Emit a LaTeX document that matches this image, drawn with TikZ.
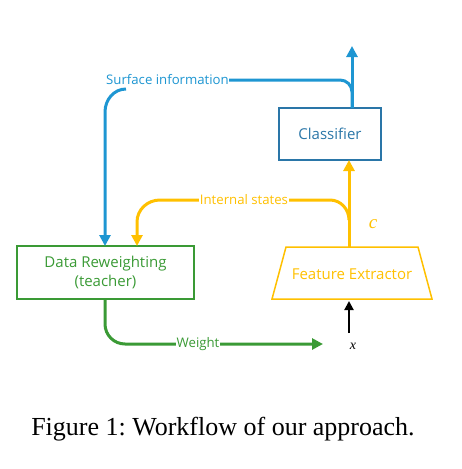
\documentclass[tikz,border=0pt]{standalone}
\usepackage{fontspec}
\setmainfont{Liberation Serif}
\newfontfamily\diag{Open Sans}
\usetikzlibrary{arrows.meta,shapes.geometric}
\definecolor{cblue}{HTML}{1E96D2}
\definecolor{cboxblue}{HTML}{2A76A8}
\definecolor{cgreen}{HTML}{3A9A35}
\definecolor{cyel}{HTML}{FFC000}
\frenchspacing
\begin{document}
\begin{tikzpicture}[x=1pt,y=-1pt,
  flow/.style={line width=3pt,-{Triangle[length=11pt,width=11pt]}},
  lbl/.style={fill=white,inner sep=0.5pt,font=\diag\fontsize{13.2}{15}\selectfont},
  boxtxt/.style={font=\diag\fontsize{15}{19}\selectfont,align=center}]
\useasboundingbox (0,0) rectangle (461,469);
% boxes
\node[draw=cboxblue,line width=1.5pt,minimum width=102pt,minimum height=52pt,inner sep=0pt,text=cboxblue,boxtxt] (cls) at (330,134) {Classifier};
\node[draw=cgreen,line width=1.5pt,minimum width=177pt,minimum height=53pt,inner sep=0pt,text=cgreen,boxtxt] (drw) at (105.5,272.5) {Data Reweighting\\(teacher)};
\coordinate (fe1) at (272,299);
\coordinate (fe2) at (432,299);
\coordinate (fe3) at (418,247);
\coordinate (fe4) at (286,247);
\draw[cyel,line width=1.5pt] (fe1) -- (fe2) -- (fe3) -- (fe4) -- cycle;
\node[text=cyel,boxtxt] (fe) at (352,274) {Feature Extractor};
% points
\coordinate (clsTop) at (352,108);
\coordinate (clsBot) at (349,160);
\coordinate (outTip) at (352,46);
\coordinate (feTop) at (349,248);
\coordinate (drwIn1) at (105,246);
\coordinate (drwIn2) at (137,246);
\coordinate (drwBot) at (105,299);
\coordinate (wTip) at (323,344);
\coordinate (xTail) at (349,333);
\coordinate (xTip) at (349,301);
% blue
\draw[cblue,flow] (clsTop) -- (outTip);
\draw[cblue,line width=3pt] (clsTop) -- (352,92) to[out=90,in=0] (340,80) -- (228,80);
\draw[cblue,flow] (126,89) to[out=180,in=90] (105,112) -- (drwIn1);
\node[lbl,text=cblue] (si) at (167.5,80) {Surface information};
% yellow
\draw[cyel,flow] (feTop) -- (clsBot);
\draw[cyel,flow] (349,220) to[out=90,in=0] (330,200) -- (160,200) to[out=180,in=90] (137,222) -- (drwIn2);
\node[lbl,text=cyel] (is) at (244,200) {Internal states};
\node[text=cyel,font=\itshape\fontsize{19}{20}\selectfont] (c) at (373,224) {c};
% green
\draw[cgreen,flow] (drwBot) -- (105,324) to[out=-90,in=180] (125,344) -- (wTip);
\node[lbl,text=cgreen] (w) at (198,344) {Weight};
% black
\draw[black,line width=2pt,-{Triangle[length=9pt,width=9pt]}] (xTail) -- (xTip);
\node[font=\itshape\fontsize{14}{15}\selectfont] (x) at (353,346) {x};
% caption
\node[font=\fontsize{26}{30}\selectfont] (cap) at (223,429) {Figure 1: Workflow of our approach.};
\end{tikzpicture}
\end{document}
